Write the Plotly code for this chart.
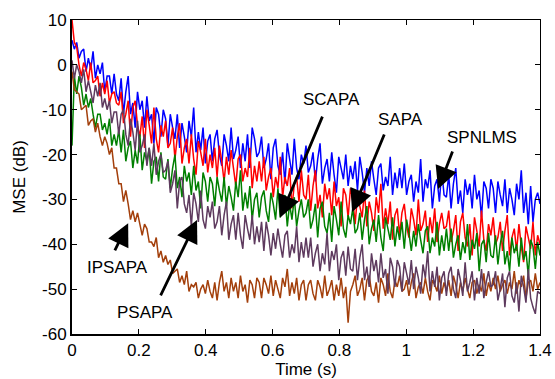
import plotly.graph_objects as go

# Sample instants: 201 samples, 7 ms apart, 0 to 1.4 s
time_s = [round(i * 0.007, 3) for i in range(201)]

# Learning curves, MSE in dB (one row = 20 samples = 0.14 s)
spnlms = [
    5.5, 3.5, 5.0, 1.5, 3.0, 3.5, -1.5, 1.5, -1.0, 3.0, -3.0, 0.0, -2.0, 0.5, -6.0, -2.5, -2.5, -6.5, -2.0, -6.5,
    -8.0, -3.0, -11.0, -6.0, -2.5, -11.0, -8.5, -14.0, -6.0, -10.0, -8.0, -14.0, -7.0, -12.5, -11.0, -17.5, -9.5, -11.0, -16.0, -10.0,
    -12.0, -18.0, -11.0, -14.0, -16.5, -11.0, -18.5, -13.0, -16.0, -19.5, -12.5, -16.0, -9.5, -19.5, -15.0, -19.0, -14.0, -22.0, -17.0, -15.5,
    -21.5, -16.5, -14.5, -20.0, -22.5, -15.5, -18.0, -21.5, -14.0, -21.0, -19.0, -16.0, -23.0, -17.5, -21.5, -15.5, -23.0, -14.0, -16.5, -20.5,
    -19.5, -16.0, -23.0, -21.0, -17.5, -25.5, -18.5, -16.5, -22.5, -24.5, -19.5, -26.5, -17.5, -21.0, -24.5, -16.5, -23.0, -25.5, -20.0, -22.0,
    -18.0, -24.0, -22.5, -19.5, -26.0, -21.0, -17.5, -26.5, -23.0, -21.0, -26.0, -19.5, -24.5, -28.5, -20.5, -23.0, -25.5, -20.0, -27.0, -22.5,
    -25.5, -21.5, -28.0, -20.5, -24.0, -28.5, -23.0, -27.0, -21.5, -25.5, -29.0, -23.0, -22.0, -28.0, -25.0, -27.0, -20.5, -29.0, -24.0, -27.5,
    -23.0, -27.5, -22.0, -29.0, -26.0, -24.5, -30.5, -26.0, -28.5, -21.0, -30.5, -25.5, -27.5, -23.5, -32.0, -27.0, -25.5, -30.5, -23.5, -29.0,
    -29.5, -24.5, -32.0, -26.5, -23.0, -31.0, -28.0, -33.0, -25.5, -29.0, -26.5, -32.0, -24.5, -30.0, -28.0, -34.0, -26.0, -27.5, -32.0, -25.5,
    -27.5, -33.0, -26.0, -29.0, -31.5, -25.5, -33.0, -27.5, -30.0, -33.5, -26.5, -30.0, -23.5, -33.0, -28.5, -35.5, -27.0, -35.0, -30.0, -28.5,
    -31.0,
]

sapa = [
    10.0, 5.0, 4.0, 0.0, -2.5, 0.5, -1.0, -3.5, 0.5, -4.0, -3.5, -2.5, -7.0, -4.0, -6.5, -3.5, -8.5, -6.5, -6.0, -8.5,
    -9.0, -6.0, -13.0, -11.0, -8.0, -16.0, -9.5, -8.0, -13.5, -16.0, -11.5, -18.5, -10.0, -13.5, -17.5, -9.5, -16.5, -19.5, -13.5, -16.0,
    -12.5, -18.5, -17.5, -14.0, -21.0, -16.0, -13.0, -22.0, -18.5, -16.5, -22.0, -15.5, -21.0, -24.5, -17.0, -19.5, -22.5, -16.5, -24.0, -20.0,
    -23.0, -18.5, -25.0, -18.0, -21.5, -26.0, -20.5, -24.5, -19.0, -23.0, -27.0, -21.0, -20.0, -26.0, -23.0, -25.0, -18.5, -27.5, -22.5, -26.0,
    -21.5, -26.0, -20.5, -28.0, -25.0, -23.0, -29.5, -25.0, -27.5, -20.5, -29.5, -25.0, -27.0, -23.0, -32.0, -26.5, -25.0, -30.5, -23.5, -29.0,
    -30.0, -24.5, -32.5, -27.0, -23.5, -32.0, -29.0, -34.0, -26.5, -30.0, -27.5, -33.5, -26.0, -31.5, -29.5, -36.0, -27.5, -29.0, -34.0, -27.5,
    -30.0, -35.5, -29.0, -31.5, -34.0, -28.0, -36.0, -30.5, -33.0, -37.0, -29.5, -33.0, -26.5, -36.5, -32.0, -35.5, -30.5, -39.0, -33.5, -32.0,
    -38.0, -33.0, -31.0, -36.0, -38.5, -32.0, -34.5, -38.0, -30.0, -37.0, -35.5, -32.5, -39.5, -34.0, -37.5, -32.0, -39.5, -35.5, -33.0, -36.5,
    -36.0, -32.5, -39.5, -37.0, -33.5, -41.5, -35.0, -33.0, -38.5, -40.5, -35.5, -42.5, -34.0, -37.0, -40.5, -32.5, -39.0, -41.5, -35.5, -38.0,
    -34.0, -40.0, -38.5, -35.0, -41.5, -37.0, -33.5, -42.5, -38.5, -36.5, -41.5, -35.5, -40.5, -44.0, -36.0, -38.5, -41.0, -35.0, -42.5, -38.0,
    -40.0,
]

scapa = [
    -18.0, -2.5, -6.5, -2.5, -5.0, -9.0, -6.5, -9.5, -7.5, -11.0, -14.0, -11.0, -11.0, -14.5, -13.0, -15.5, -12.0, -18.0, -15.5, -18.0,
    -14.5, -19.5, -14.5, -21.5, -18.5, -17.0, -23.0, -19.0, -22.0, -15.5, -23.5, -19.5, -21.5, -18.5, -26.5, -21.5, -20.5, -26.0, -19.5, -25.0,
    -25.5, -21.0, -27.5, -23.0, -20.0, -27.5, -25.0, -29.5, -22.5, -26.0, -24.0, -29.0, -22.5, -28.0, -26.0, -32.0, -24.0, -26.0, -30.5, -25.0,
    -26.5, -31.5, -25.0, -28.0, -30.5, -25.0, -31.5, -27.0, -29.5, -32.5, -26.0, -29.5, -23.5, -32.5, -28.5, -32.0, -27.0, -34.5, -30.0, -28.5,
    -34.0, -29.5, -28.0, -32.5, -35.0, -28.5, -31.0, -34.5, -27.5, -34.0, -32.0, -29.0, -36.0, -31.0, -34.5, -29.5, -36.0, -32.5, -30.0, -34.0,
    -33.0, -30.0, -36.5, -34.5, -31.0, -38.5, -32.0, -30.5, -36.0, -37.5, -33.0, -39.5, -31.5, -34.5, -38.0, -30.5, -36.5, -38.5, -33.5, -35.5,
    -32.0, -37.5, -36.5, -33.0, -39.0, -34.5, -31.5, -40.0, -36.5, -34.5, -39.5, -33.5, -38.5, -41.5, -34.0, -36.5, -39.0, -34.0, -40.5, -36.0,
    -39.0, -35.0, -41.0, -34.5, -37.5, -41.5, -37.0, -40.5, -35.5, -39.0, -42.0, -37.0, -36.0, -42.0, -38.5, -40.5, -35.0, -42.5, -38.0, -41.5,
    -36.5, -41.5, -36.5, -43.0, -40.0, -38.0, -43.5, -39.5, -42.0, -35.5, -43.5, -39.0, -41.0, -37.5, -46.0, -40.0, -39.0, -44.0, -37.5, -42.5,
    -43.0, -38.0, -44.5, -40.0, -37.0, -44.5, -41.5, -46.0, -38.5, -42.0, -40.0, -45.0, -38.5, -43.5, -41.5, -47.0, -39.0, -40.5, -45.5, -39.5,
    -42.5,
]

psapa = [
    1.0, -3.0, 0.0, -1.5, -4.0, -1.0, -6.0, -3.5, -6.0, -8.5, -4.5, -7.0, -4.0, -9.5, -7.5, -10.0, -8.0, -13.0, -10.5, -10.5,
    -15.5, -11.0, -10.0, -15.5, -18.0, -12.0, -15.0, -19.0, -12.5, -19.5, -18.0, -15.5, -22.5, -18.5, -22.5, -17.5, -24.5, -21.5, -20.0, -24.0,
    -23.5, -21.5, -28.5, -26.5, -23.5, -32.0, -26.0, -25.0, -31.0, -33.0, -29.0, -36.0, -28.5, -31.0, -35.0, -28.0, -34.5, -36.5, -31.5, -34.0,
    -30.5, -36.5, -35.0, -31.5, -38.0, -33.5, -30.5, -39.0, -35.5, -33.5, -39.0, -33.0, -38.0, -41.0, -33.5, -36.5, -39.0, -33.5, -40.0, -36.0,
    -39.5, -35.0, -41.5, -35.0, -38.0, -42.5, -37.5, -41.0, -36.5, -40.0, -43.0, -38.0, -37.0, -43.0, -40.0, -42.0, -36.0, -44.0, -39.5, -43.0,
    -38.5, -43.0, -38.5, -45.0, -42.0, -40.0, -46.0, -42.0, -44.5, -37.5, -46.0, -41.5, -43.5, -40.0, -48.0, -43.0, -41.5, -47.0, -40.5, -45.5,
    -46.0, -41.0, -48.0, -43.0, -40.0, -48.0, -45.0, -49.5, -42.0, -46.0, -43.5, -48.5, -42.0, -47.5, -45.5, -51.0, -43.0, -45.0, -49.5, -43.5,
    -45.0, -50.5, -44.0, -46.5, -49.0, -43.5, -50.0, -45.0, -47.5, -51.0, -44.5, -47.5, -41.5, -50.5, -46.0, -49.5, -45.0, -52.5, -47.5, -46.0,
    -51.5, -46.5, -45.0, -50.0, -52.0, -45.5, -48.0, -51.5, -44.0, -50.5, -48.5, -46.0, -52.5, -47.5, -51.0, -45.5, -52.0, -48.5, -46.0, -49.5,
    -49.0, -46.0, -52.5, -50.0, -46.5, -54.0, -47.5, -46.0, -51.5, -53.0, -48.5, -55.0, -47.0, -49.5, -53.0, -45.5, -52.0, -54.0, -55.5, -50.5,
    -51.0,
]

ipsapa = [
    -1.5, -5.5, -6.0, -6.5, -10.0, -9.5, -9.0, -13.5, -12.5, -12.0, -15.0, -13.0, -16.0, -18.0, -16.0, -17.5, -20.0, -18.5, -23.0, -23.0,
    -26.5, -26.5, -30.5, -28.0, -31.0, -34.5, -32.5, -35.0, -33.0, -35.5, -38.0, -35.5, -36.5, -39.5, -39.5, -40.5, -38.5, -43.0, -41.5, -44.0,
    -42.5, -44.5, -43.5, -46.5, -46.0, -45.5, -48.5, -47.0, -49.0, -46.0, -50.5, -49.0, -49.5, -48.5, -52.0, -50.0, -49.0, -51.0, -48.0, -50.5,
    -52.0, -48.5, -52.5, -48.5, -46.0, -50.5, -48.5, -52.0, -47.5, -50.5, -48.5, -52.0, -47.0, -50.5, -49.0, -53.0, -48.0, -49.0, -52.0, -47.5,
    -48.5, -52.0, -47.5, -49.0, -51.0, -47.0, -51.5, -48.0, -50.0, -52.0, -47.5, -49.5, -45.5, -51.5, -48.5, -51.0, -47.5, -52.5, -49.0, -48.0,
    -52.5, -49.0, -48.0, -51.0, -52.5, -48.0, -49.5, -52.0, -47.0, -51.5, -50.0, -48.0, -52.5, -49.0, -51.5, -47.5, -52.0, -49.5, -57.5, -50.5,
    -49.0, -47.0, -51.5, -50.0, -47.5, -52.5, -48.0, -47.0, -50.5, -51.5, -48.5, -53.0, -47.5, -49.0, -51.5, -46.5, -50.5, -52.0, -48.0, -49.5,
    -47.0, -50.5, -50.0, -48.0, -51.5, -48.5, -46.5, -52.0, -49.5, -48.5, -51.0, -47.5, -50.5, -52.5, -48.0, -49.0, -50.5, -47.0, -51.0, -48.5,
    -50.5, -48.0, -51.5, -47.0, -49.0, -52.0, -48.5, -50.5, -47.5, -50.0, -52.0, -48.5, -48.0, -51.0, -49.0, -50.5, -46.5, -51.5, -48.5, -50.5,
    -47.5, -50.0, -47.0, -50.5, -49.0, -48.0, -51.0, -48.5, -50.0, -46.0, -51.0, -48.0, -49.5, -47.0, -52.0, -48.5, -48.0, -50.5, -46.5, -50.0,
    -48.5,
]

x_ticks = [0, 0.2, 0.4, 0.6, 0.8, 1.0, 1.2, 1.4]
x_tick_labels = ["0", "0.2", "0.4", "0.6", "0.8", "1", "1.2", "1.4"]
y_ticks = [-60, -50, -40, -30, -20, -10, 0, 10]
y_tick_labels = ["-60", "-50", "-40", "-30", "-20", "-10", "0", "10"]

FONT = "Liberation Sans, Arial, sans-serif"

# Drawing order: later traces sit on top
series = [
    ("SPNLMS", spnlms, "#0000FF"),
    ("SAPA", sapa, "#FF0000"),
    ("SCAPA", scapa, "#007F00"),
    ("IPSAPA", ipsapa, "#A33F0B"),
    ("PSAPA", psapa, "#5E3A5E"),
]

fig = go.Figure()
for name, values, color in series:
    fig.add_trace(go.Scatter(
        x=time_s, y=values, name=name, mode="lines",
        line=dict(color=color, width=1.5, simplify=False),
        showlegend=False, hoverinfo="skip",
    ))

# Empty trace so the mirrored top/right axes are drawn
fig.add_trace(go.Scatter(x=[], y=[], xaxis="x2", yaxis="y2",
                         showlegend=False, hoverinfo="skip"))

axis_common = dict(
    showgrid=False, zeroline=False, showline=True, linecolor="black",
    ticks="inside", ticklen=5, tickcolor="black", tickwidth=1,
    automargin=False,
)

fig.update_layout(
    width=555, height=379,
    margin=dict(l=72, r=15, t=20, b=45),
    paper_bgcolor="white", plot_bgcolor="white",
    font=dict(family=FONT, size=17, color="black"),
    xaxis=dict(
        range=[0, 1.4], tickvals=x_ticks, ticktext=x_tick_labels,
        linewidth=2, tickfont=dict(size=17),
        title=dict(text="Time (s)", font=dict(size=17), standoff=10),
        **axis_common,
    ),
    yaxis=dict(
        range=[-60, 10], tickvals=y_ticks, ticktext=y_tick_labels,
        linewidth=2, tickfont=dict(size=17),
        title=dict(text="MSE (dB)", font=dict(size=17), standoff=12),
        **axis_common,
    ),
    xaxis2=dict(
        range=[0, 1.4], tickvals=x_ticks, overlaying="x", side="top",
        anchor="y", showticklabels=False, linewidth=1, **axis_common,
    ),
    yaxis2=dict(
        range=[-60, 10], tickvals=y_ticks, overlaying="y", side="right",
        anchor="x", showticklabels=False, linewidth=1, **axis_common,
    ),
)

# Curve labels with arrows: (text, text position, arrow head, arrow tail)
labels = [
    ("SCAPA", (0.775, -7.8), (0.622, -34.1), (0.751, -11.2)),
    ("SAPA", (0.984, -12.1), (0.838, -32.8), (0.936, -15.2)),
    ("SPNLMS", (1.226, -16.1), (1.095, -27.7), (1.140, -19.0)),
    ("IPSAPA", (0.135, -45.1), (0.168, -35.3), (0.126, -41.7)),
    ("PSAPA", (0.218, -55.3), (0.374, -34.6), (0.263, -51.7)),
]
for text, (tx, ty), (hx, hy), (ax, ay) in labels:
    fig.add_annotation(
        x=hx, y=hy, ax=ax, ay=ay, xref="x", yref="y", axref="x", ayref="y",
        text="", showarrow=True, arrowhead=2, arrowsize=1.6,
        arrowwidth=2.8, arrowcolor="black", standoff=0, startstandoff=0,
    )
    fig.add_annotation(
        x=tx, y=ty, xref="x", yref="y", text=text, showarrow=False,
        xanchor="center", yanchor="middle",
        font=dict(family=FONT, size=17, color="black"),
    )

fig.write_html("out.html")
